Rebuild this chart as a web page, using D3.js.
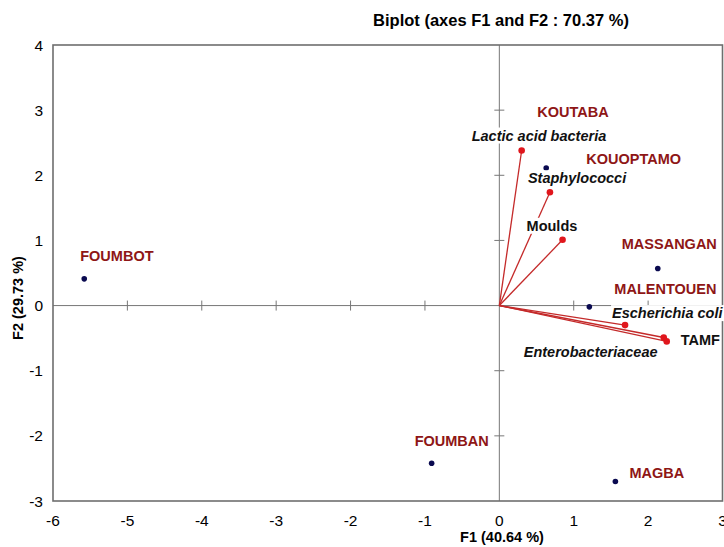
<!DOCTYPE html>
<html>
<head>
<meta charset="utf-8">
<script src="https://cdn.jsdelivr.net/npm/d3@7"></script>
<style>
  body { margin: 0; background: #fff; }
  svg text { font-family: "Liberation Sans", Arial, sans-serif; }
</style>
</head>
<body>
<svg id="drawing_region"></svg>
<script>
// observations (sites)
const siteNames = ['KOUTABA', 'KOUOPTAMO', 'MASSANGAN', 'MALENTOUEN', 'FOUMBOT', 'FOUMBAN', 'MAGBA'];
const siteF1 = [0.63, 0.86, 2.13, 1.21, -5.58, -0.91, 1.56];
const siteF2 = [2.11, 2.03, 0.57, -0.02, 0.41, -2.42, -2.70];

// variables (microbial groups)
const varNames = ['Lactic acid bacteria', 'Staphylococci', 'Moulds', 'Escherichia coli', 'TAMF', 'Enterobacteriaceae'];
const varF1 = [0.30, 0.68, 0.85, 1.69, 2.25, 2.21];
const varF2 = [2.38, 1.74, 1.01, -0.30, -0.55, -0.49];
const varItalic = [true, true, false, true, false, true];

const xTicks = [-6, -5, -4, -3, -2, -1, 0, 1, 2, 3];
const yTicks = [-3, -2, -1, 0, 1, 2, 3, 4];

// label placement relative to the mark (pixels)
const siteLabelOffset = [[-9, -51], [23, -9], [-36, -19], [25, -13], [-4, -18], [-17, -17], [14, -3]];
const varLabelOffset = [[-50, -10], [-22, -9], [-36, -9], [-13, -7], [14, 4], [-140, 20]];

const config = {
    width: 724,
    height: 547,
    left: 53, right: 722.5, top: 45, bottom: 501
};

const svg = d3.select('#drawing_region')
    .attr('width', config.width)
    .attr('height', config.height);

const xscale = d3.scaleLinear().domain([-6, 3]).range([config.left, config.right]);
const yscale = d3.scaleLinear().domain([-3, 4]).range([config.bottom, config.top]);

// title
svg.append('text')
    .attr('x', 501).attr('y', 26)
    .attr('text-anchor', 'middle')
    .attr('font-size', 16.5).attr('font-weight', 'bold')
    .text('Biplot (axes F1 and F2 : 70.37 %)');

// zero axes
svg.append('line')
    .attr('x1', config.left).attr('x2', config.right)
    .attr('y1', yscale(0)).attr('y2', yscale(0))
    .attr('stroke', '#777').attr('stroke-width', 1);
svg.append('line')
    .attr('x1', xscale(0)).attr('x2', xscale(0))
    .attr('y1', config.top).attr('y2', config.bottom)
    .attr('stroke', '#777').attr('stroke-width', 1);

// small ticks on zero axes
svg.selectAll('.xt').data(xTicks.filter(d => d > -6 && d < 3 && d !== 0)).join('line')
    .attr('x1', d => xscale(d)).attr('x2', d => xscale(d))
    .attr('y1', yscale(0) - 5).attr('y2', yscale(0) + 5)
    .attr('stroke', '#777');
svg.selectAll('.yt').data(yTicks.filter(d => d > -3 && d < 4 && d !== 0)).join('line')
    .attr('x1', xscale(0) - 5).attr('x2', xscale(0) + 5)
    .attr('y1', d => yscale(d)).attr('y2', d => yscale(d))
    .attr('stroke', '#777');

// frame
svg.append('rect')
    .attr('x', config.left).attr('y', config.top)
    .attr('width', config.right - config.left)
    .attr('height', config.bottom - config.top)
    .attr('fill', 'none').attr('stroke', '#6e6e6e').attr('stroke-width', 1.6);

// tick labels
svg.selectAll('.xl').data(xTicks).join('text')
    .attr('x', d => xscale(d)).attr('y', 526)
    .attr('text-anchor', 'middle').attr('font-size', 15.5)
    .text(d => d);
svg.selectAll('.yl').data(yTicks).join('text')
    .attr('x', 43).attr('y', d => yscale(d) + 5.5)
    .attr('text-anchor', 'end').attr('font-size', 15.5)
    .text(d => d);

// axis titles
svg.append('text')
    .attr('x', 502).attr('y', 542)
    .attr('text-anchor', 'middle').attr('font-size', 14.5).attr('font-weight', 'bold')
    .text('F1 (40.64 %)');
svg.append('text')
    .attr('transform', 'translate(23, 298) rotate(-90)')
    .attr('text-anchor', 'middle').attr('font-size', 14.5).attr('font-weight', 'bold')
    .text('F2 (29.73 %)');

// variable vectors
const vars = varNames.map((n, i) => ({ name: n, x: varF1[i], y: varF2[i], italic: varItalic[i], off: varLabelOffset[i] }));
svg.selectAll('.vec').data(vars).join('line')
    .attr('x1', xscale(0)).attr('y1', yscale(0))
    .attr('x2', d => xscale(d.x)).attr('y2', d => yscale(d.y))
    .attr('stroke', '#c42a2a').attr('stroke-width', 1.3);
svg.selectAll('.vdot').data(vars).join('circle')
    .attr('cx', d => xscale(d.x)).attr('cy', d => yscale(d.y))
    .attr('r', 3.3).attr('fill', '#e0161c');

// site points
const sites = siteNames.map((n, i) => ({ name: n, x: siteF1[i], y: siteF2[i], off: siteLabelOffset[i] }));
svg.selectAll('.sdot').data(sites).join('circle')
    .attr('cx', d => xscale(d.x)).attr('cy', d => yscale(d.y))
    .attr('r', 2.8).attr('fill', '#0a0a50');

// labels with white background
function addLabel(d, color, italic) {
    const g = svg.append('g');
    const t = g.append('text')
        .attr('x', xscale(d.x) + d.off[0]).attr('y', yscale(d.y) + d.off[1])
        .attr('font-size', 14.5).attr('font-weight', 'bold')
        .attr('font-style', italic ? 'italic' : 'normal')
        .attr('fill', color)
        .text(d.name);
    const b = t.node().getBBox();
    g.insert('rect', 'text')
        .attr('x', b.x - 1).attr('y', b.y)
        .attr('width', b.width + 2).attr('height', b.height)
        .attr('fill', '#fff');
}
vars.forEach(d => addLabel(d, '#111', d.italic));
sites.forEach(d => addLabel(d, '#8e1616', false));
</script>
</body>
</html>
